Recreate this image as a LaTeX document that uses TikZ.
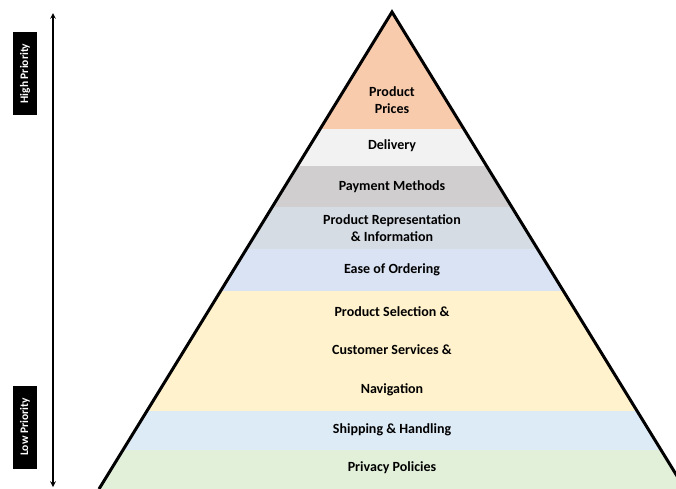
\documentclass[tikz,border=0pt]{standalone}
\usepackage{fontspec}
\setmainfont{Carlito}
\usepackage{tikz}
\usetikzlibrary{arrows,positioning}
\usepackage{xcolor}
\definecolor{pyorange}{HTML}{F8CBAD}
\definecolor{pywhite}{HTML}{F2F2F2}
\definecolor{pygray}{HTML}{D0CECE}
\definecolor{pyslate}{HTML}{D6DCE4}
\definecolor{pyblue}{HTML}{DAE3F3}
\definecolor{pyyellow}{HTML}{FFF2CC}
\definecolor{pysky}{HTML}{DDEBF7}
\definecolor{pygreen}{HTML}{E2F0D9}
\tikzstyle{layer} = [align=center, text=black, inner sep=0pt, font=\fontsize{14}{17}\selectfont\bfseries]
\tikzstyle{tag} = [rectangle, fill=black, text=white, rotate=90, minimum width=83pt, minimum height=24pt, inner sep=0pt, font=\fontsize{11.5}{13}\selectfont\bfseries]
\tikzstyle{arrow} = [line width=1.5pt,<->,>=stealth,color=black]
\tikzstyle{outline} = [line width=3pt, line join=miter, color=black]

\begin{document}
\begin{tikzpicture}[x=1pt, y=-1pt]
\useasboundingbox (0,0) rectangle (676,488);
\coordinate (apex) at (392,12);
\coordinate (bl) at (99,489);
\coordinate (br) at (685,489);

% Pyramid bands
\begin{scope}
\clip (apex) -- (bl) -- (br) -- cycle;
\fill[pyorange] (90,10) rectangle (700,129);
\fill[pywhite] (90,129) rectangle (700,166);
\fill[pygray] (90,166) rectangle (700,207);
\fill[pyslate] (90,207) rectangle (700,249);
\fill[pyblue] (90,249) rectangle (700,291);
\fill[pyyellow] (90,291) rectangle (700,411);
\fill[pysky] (90,411) rectangle (700,450);
\fill[pygreen] (90,450) rectangle (700,490);
\end{scope}
\draw[outline] (bl) -- (apex) -- (br);

% Band labels
\node[layer] (prices) at (392,100) {Product\\Prices};
\node[layer] (delivery) at (392,146) {Delivery};
\node[layer] (payment) at (392,187) {Payment Methods};
\node[layer] (represent) at (392,228) {Product Representation\\\& Information};
\node[layer] (ordering) at (392,270) {Ease of Ordering};
\node[layer] (selection) at (392,351) {Product Selection \&\\[21.5pt]Customer Services \&\\[21.5pt]Navigation};
\node[layer] (shipping) at (392,430) {Shipping \& Handling};
\node[layer] (privacy) at (392,468) {Privacy Policies};

% Priority scale
\coordinate (hi) at (53,13);
\coordinate (lo) at (53,487);
\draw[arrow] (hi) -- (lo);
\node[tag] (high) at (25,73.5) {High Priority};
\node[tag] (low) at (25,427) {Low Priority};
\end{tikzpicture}
\end{document}
